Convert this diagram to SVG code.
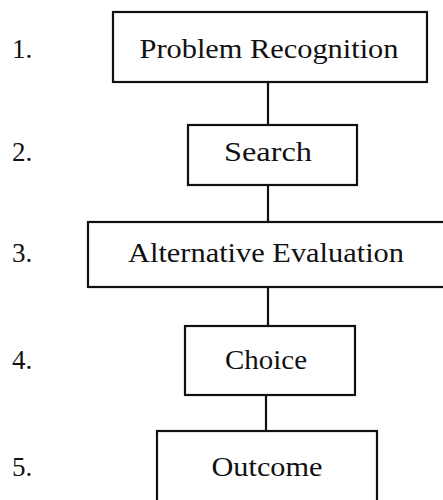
<svg xmlns="http://www.w3.org/2000/svg" width="443" height="500" viewBox="0 0 443 500">
<style>
.box{fill:#fff;stroke:#111;stroke-width:2.2}
.lbl{font-family:"Liberation Serif",serif;font-size:27px;fill:#111;text-anchor:middle}
.num{font-family:"Liberation Serif",serif;font-size:27px;fill:#111}
.con{stroke:#111;stroke-width:2.2;fill:none}
</style>
<rect width="443" height="500" fill="#fff"/>
<g id="connectors">
<line class="con" x1="268" y1="82" x2="268" y2="125"/>
<line class="con" x1="268" y1="185" x2="268" y2="222"/>
<line class="con" x1="268" y1="287" x2="268" y2="326"/>
<line class="con" x1="266" y1="395" x2="266" y2="431"/>
</g>
<g id="n1">
<rect class="box" x="113" y="12" width="314" height="70"/>
<text class="lbl" x="269" y="58" textLength="259" lengthAdjust="spacingAndGlyphs">Problem Recognition</text>
</g>
<g id="n2">
<rect class="box" x="188" y="125" width="169" height="60"/>
<text class="lbl" x="268" y="161" textLength="88" lengthAdjust="spacingAndGlyphs">Search</text>
</g>
<g id="n3">
<rect class="box" x="88" y="222" width="365" height="65"/>
<text class="lbl" x="266" y="262" textLength="276" lengthAdjust="spacingAndGlyphs">Alternative Evaluation</text>
</g>
<g id="n4">
<rect class="box" x="185" y="326" width="170" height="69"/>
<text class="lbl" x="266" y="369" textLength="82" lengthAdjust="spacingAndGlyphs">Choice</text>
</g>
<g id="n5">
<rect class="box" x="157" y="431" width="220" height="80"/>
<text class="lbl" x="267" y="476" textLength="111" lengthAdjust="spacingAndGlyphs">Outcome</text>
</g>
<g id="numbers">
<text class="num" x="12" y="58">1.</text>
<text class="num" x="12" y="161">2.</text>
<text class="num" x="12" y="262">3.</text>
<text class="num" x="12" y="369">4.</text>
<text class="num" x="12" y="476">5.</text>
</g>
</svg>
